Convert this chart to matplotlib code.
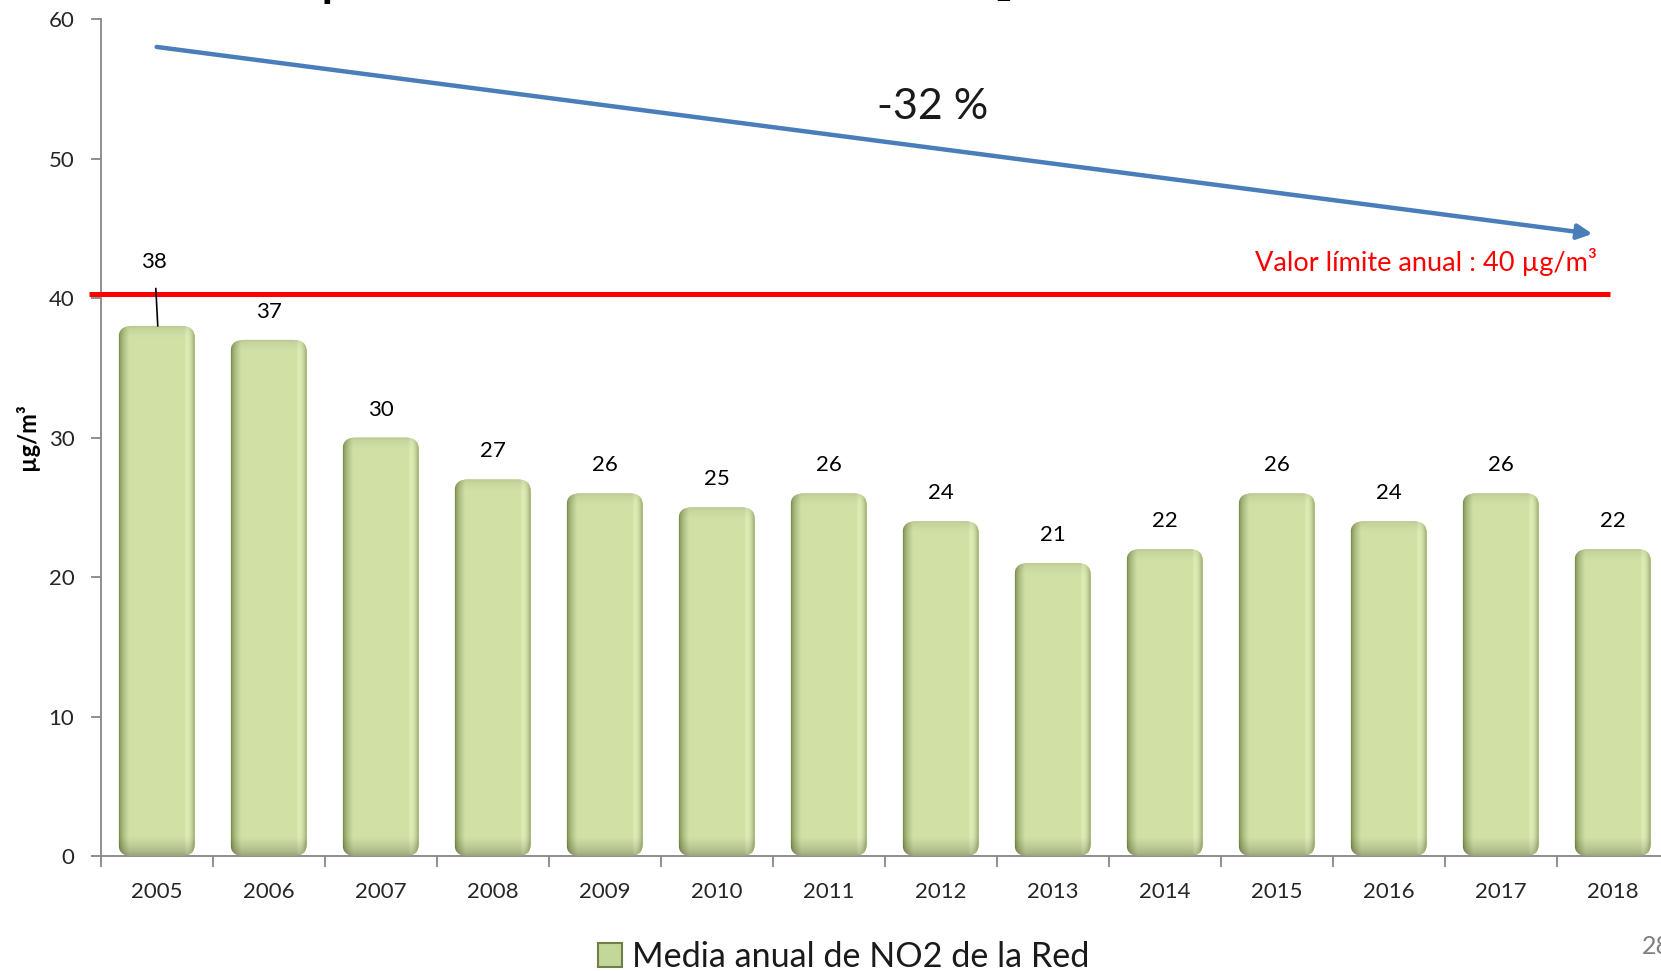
import numpy as np
import matplotlib
matplotlib.use('Agg')
import matplotlib.pyplot as plt
from matplotlib.patches import FancyBboxPatch, Rectangle

plt.rcParams['font.family'] = ['Lato', 'DejaVu Sans']

## Data ##
years = ['2005', '2006', '2007', '2008', '2009', '2010', '2011',
         '2012', '2013', '2014', '2015', '2016', '2017', '2018']
no2_mean = [38, 37, 30, 27, 26, 25, 26, 24, 21, 22, 26, 24, 26, 22]
limit_value = 40
trend_start = 58      # arrow start (2005)
trend_end = 44.6      # arrow end
trend_label = '-32 %'
limit_label = 'Valor límite anual : 40 µg/m³'
legend_label = 'Media anual de NO2 de la Red'
title = 'Comparativa de la media anual de NO₂ de la Red 2005 - 2018'

## Figure ##
fig = plt.figure(figsize=(16.61, 9.71), dpi=100)
ax = fig.add_axes([0.0606, 0.1184, 0.9440, 0.8620])

x = np.arange(len(years))
bar_w = 0.68

# horizontal shading profile for the "cylinder" bars
light = np.array([0.82, 0.88, 0.65])
dark = np.array([0.48, 0.54, 0.30])
hi = np.array([0.89, 0.94, 0.74])
t = np.linspace(0, 1, 120)
f = np.clip(t / 0.13, 0, 1) * np.clip((1 - t) / 0.07, 0, 1)
f = f ** 0.6
prof = dark[None, :] + (light - dark)[None, :] * f[:, None]
h = np.exp(-((t - 0.89) / 0.025) ** 2)
prof = prof + (hi - prof) * h[:, None] * 0.8

for i, v in enumerate(no2_mean):
    patch = FancyBboxPatch((x[i] - bar_w / 2, 0), bar_w, v,
                           boxstyle='round,pad=0,rounding_size=0.12',
                           mutation_aspect=7, facecolor=light,
                           edgecolor='none', zorder=2)
    ax.add_patch(patch)
    # vertical darkening near the bottom and the top
    yy = np.linspace(0, v, 200)
    vb = np.clip(yy / 1.3, 0, 1) ** 0.7
    vt = np.clip((v - yy) / 0.8, 0, 1) ** 0.5
    vert = 0.75 + 0.25 * vb
    vert = vert * (0.9 + 0.1 * vt)
    img = prof[None, :, :] * vert[:, None, None]
    img = np.clip(img, 0, 1)
    im = ax.imshow(img, extent=(x[i] - bar_w / 2, x[i] + bar_w / 2, 0, v),
                   origin='lower', aspect='auto', zorder=3, interpolation='bilinear')
    im.set_clip_path(patch)

## Value labels ##
for i, v in enumerate(no2_mean):
    if i == 0:
        ax.annotate(str(v), xy=(x[i] + 0.01, v), xytext=(x[i] - 0.02, v + 4.6),
                    ha='center', va='center', fontsize=16, color='black',
                    arrowprops=dict(arrowstyle='-', color='black', lw=1.2,
                                    shrinkA=10, shrinkB=0), zorder=6)
    else:
        ax.text(x[i], v + 2.0, str(v), ha='center', va='center',
                fontsize=16, color='black', zorder=6)

## Limit line ##
ax.plot([-0.6, 12.98], [limit_value + 0.3, limit_value + 0.3], color='#ff0000',
        lw=3.6, clip_on=False, zorder=5, solid_capstyle='butt')
ax.text(12.86, 42.6, limit_label, ha='right', va='center',
        fontsize=19.5, color='#ff0000')

## Trend arrow ##
ax.annotate('', xy=(12.82, trend_end), xytext=(0, trend_start),
            arrowprops=dict(arrowstyle='-|>', color='#4a7ebb', lw=3.2,
                            mutation_scale=22, shrinkA=0, shrinkB=0))
ax.text(6.93, 53.7, trend_label, ha='center', va='center',
        fontsize=31, color='#1a1a1a')

## Axes ##
ax.set_xlim(-0.5, len(years) - 0.5)
ax.set_ylim(0, 60)
ax.set_yticks(np.arange(0, 61, 10))
ax.set_xticks(x)
ax.set_xticklabels(years)
ax.set_xticks(np.arange(-0.5, len(years), 1), minor=True)
ax.tick_params(axis='x', which='major', length=0, pad=19, labelsize=16,
               labelcolor='#262626')
ax.tick_params(axis='x', which='minor', length=8, width=1.3, color='#868686',
               direction='out')
ax.tick_params(axis='y', length=7, width=1.3, color='#868686', pad=12,
               labelsize=16, labelcolor='#262626')
for s in ['top', 'right']:
    ax.spines[s].set_visible(False)
for s in ['left', 'bottom']:
    ax.spines[s].set_color('#868686')
    ax.spines[s].set_linewidth(1.3)

fig.text(0.0165, 0.55, 'µg/m³', rotation=90, ha='center', va='center',
         fontsize=17, fontweight='bold', color='black')

## Legend ##
handle = Rectangle((0, 0), 1, 1, facecolor='#c4d79b', edgecolor='#6f7f45', lw=1.5)
fig.legend([handle], [legend_label], loc='center', bbox_to_anchor=(0.508, 0.0145),
           frameon=False, fontsize=24.6, handlelength=0.7, handleheight=0.7,
           handletextpad=0.3, labelcolor='#1a1a1a', borderpad=0.2)

## Cut-off title and page number ##
fig.text(0.512, 1 + 4 / 971, title, ha='center', va='baseline',
         fontsize=33, fontweight='bold', color='black')
fig.text(1642 / 1661, 1 - 946 / 971, '28', ha='left', va='center',
         fontsize=18, color='#7f7f7f')

fig.savefig('out.png', dpi=100)
